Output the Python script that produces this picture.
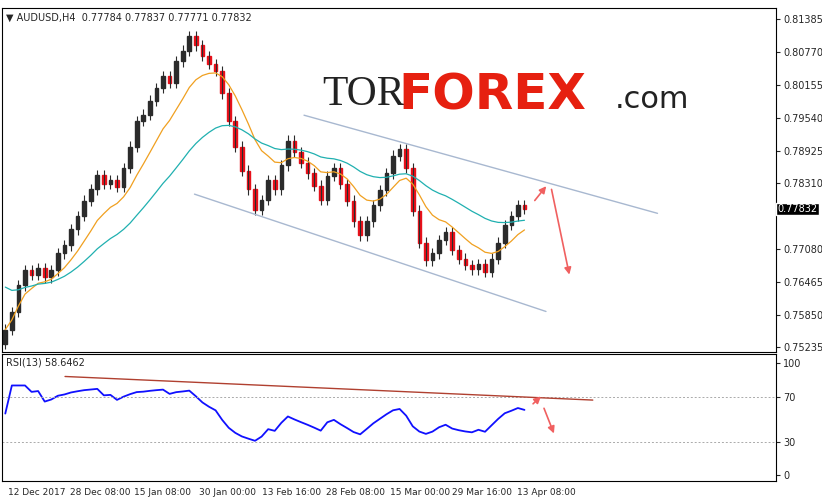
import numpy as np, pandas as pd, matplotlib
matplotlib.use("Agg")
import matplotlib.pyplot as plt, seaborn as sns

closes = [
0.7557,0.7590,0.7640,0.7669,0.7660,0.7672,0.7655,0.7668,
0.7700,0.7715,0.7745,0.7770,0.7799,0.7820,0.7846,0.7830,
0.7837,0.7825,0.7860,0.7900,0.7948,0.7960,0.7986,0.8010,
0.8032,0.8020,0.8060,0.8080,0.8107,0.8090,0.8070,0.8055,
0.8042,0.8000,0.7948,0.7900,0.7855,0.7820,0.7781,0.7800,
0.7837,0.7820,0.7865,0.7911,0.7890,0.7870,0.7850,0.7827,
0.7800,0.7845,0.7860,0.7830,0.7799,0.7760,0.7734,0.7760,
0.7790,0.7818,0.7850,0.7883,0.7895,0.7860,0.7780,0.7720,
0.7687,0.7700,0.7725,0.7740,0.7706,0.7690,0.7678,0.7670,
0.7680,0.7665,0.7690,0.7720,0.7753,0.7770,0.7790,0.7783]
open0 = 0.7530
price_ticks = [0.75235,0.75850,0.76465,0.77080,0.78310,0.78925,0.79540,0.80155,0.80770,0.81385]
date_labels = ["12 Dec 2017","28 Dec 08:00","15 Jan 08:00","30 Jan 00:00","13 Feb 16:00",
               "28 Feb 08:00","15 Mar 00:00","29 Mar 16:00","13 Apr 08:00"]
date_px = [3,65,129,195,258,322,386,449,514]

sns.set_style("white")
plt.rcParams['font.family'] = ['DejaVu Sans']
fig = plt.figure(figsize=(8.22,5.0), dpi=100)
W,H = 822,500
ax = fig.add_axes([2/W, 1-352/H, 774/W, 344/H])
ax2 = fig.add_axes([2/W, 1-481/H, 774/W, 127/H])
n = len(closes)
sp = 528.0/n
df = pd.DataFrame({"i": np.arange(n), "close": closes})
df["open"] = [open0] + closes[:-1]
for _,r in df.iterrows():
    up = r.close >= r.open
    col = "#2b2b2b" if up else "#e8101a"
    hi = max(r.open, r.close)+0.0010; lo = min(r.open, r.close)-0.0010
    ax.vlines(r.i, lo, hi, color="#2b2b2b", lw=0.8)
    ax.bar(r.i, r.close-r.open if abs(r.close-r.open)>1e-5 else 0.0001, bottom=r.open, width=0.55, color=col, edgecolor=col)
df["ma1"] = df.close.ewm(span=10).mean()
df["ma2"] = pd.Series([0.7650]*8+closes).ewm(span=30).mean().iloc[8:].values
sns.lineplot(data=df, x="i", y="ma1", ax=ax, color="#f0a020", lw=0.9)
sns.lineplot(data=df, x="i", y="ma2", ax=ax, color="#20b0b0", lw=0.9)
ax.set_xlim(-0.5, 774/sp)
ax.set_ylim(0.7515, 0.8160)
ax.plot([300/sp, 655/sp],[0.7959,0.7775], color="#a8b8d0", lw=1)
ax.plot([190/sp, 543/sp],[0.7811,0.7591], color="#a8b8d0", lw=1)
ax.annotate("", xy=(545/sp,0.7830), xytext=(530/sp,0.7795), arrowprops=dict(arrowstyle="-|>",color="#f06060",lw=1.2))
ax.annotate("", xy=(567/sp,0.7655), xytext=(548/sp,0.7825), arrowprops=dict(arrowstyle="-|>",color="#f06060",lw=1.2))
ax.yaxis.tick_right(); ax.set_yticks(price_ticks)
ax.set_yticklabels([f"{t:.5f}" for t in price_ticks], fontsize=7)
ax.set_xticks([]); ax.set_xlabel(""); ax.set_ylabel("")
ax.text(1.002, 0.7783, "0.77832", transform=ax.get_yaxis_transform(), fontsize=7, color="white",
        va="center", bbox=dict(facecolor="black", pad=1))
ax.text(0.005, 0.985, "▼ AUDUSD,H4  0.77784 0.77837 0.77771 0.77832", transform=ax.transAxes, fontsize=7, va="top")
fig.text(322/W, 1-95/H, "TOR", fontsize=30, family="Liberation Serif", va="center", color="#222")
fig.text(398/W, 1-95/H, "FOREX", fontsize=36, fontweight="bold", va="center", color="#e62010")
fig.text(615/W, 1-100/H, ".com", fontsize=22, va="center", color="#222")
# RSI
d = df.close.diff().fillna(0)
g = d.clip(lower=0).ewm(alpha=1/8).mean(); l = (-d.clip(upper=0)).ewm(alpha=1/8).mean()
df["rsi"] = 50 + 0.6*(50 - 100/(1+g/(l+1e-9)))
df.loc[0,"rsi"] = 55
sns.lineplot(data=df, x="i", y="rsi", ax=ax2, color="#1010ff", lw=1.3)
for v in (30,70): ax2.axhline(v, color="#aaa", ls=(0,(2,2)), lw=0.7)
ax2.plot([60/sp, 590/sp],[88,67], color="#b04030", lw=1)
ax2.annotate("", xy=(540/sp,72), xytext=(528/sp,62), arrowprops=dict(arrowstyle="-|>",color="#f06060",lw=1.2))
ax2.annotate("", xy=(552/sp,35), xytext=(540/sp,62), arrowprops=dict(arrowstyle="-|>",color="#f06060",lw=1.2))
ax2.set_xlim(ax.get_xlim()); ax2.set_ylim(-5,108)
ax2.yaxis.tick_right(); ax2.set_yticks([0,30,70,100]); ax2.set_yticklabels(["0","30","70","100"], fontsize=7)
ax2.set_xticks([p/sp for p in date_px]); ax2.set_xticklabels(date_labels, fontsize=6.5, ha="left")
ax2.set_xlabel(""); ax2.set_ylabel("")
ax2.text(0.005, 0.97, "RSI(13) 58.6462", transform=ax2.transAxes, fontsize=7, va="top")
for a in (ax,ax2):
    a.tick_params(length=3, pad=2)
    for s in a.spines.values(): s.set_color("black"); s.set_linewidth(0.8)
fig.savefig("out.png", dpi=100)
